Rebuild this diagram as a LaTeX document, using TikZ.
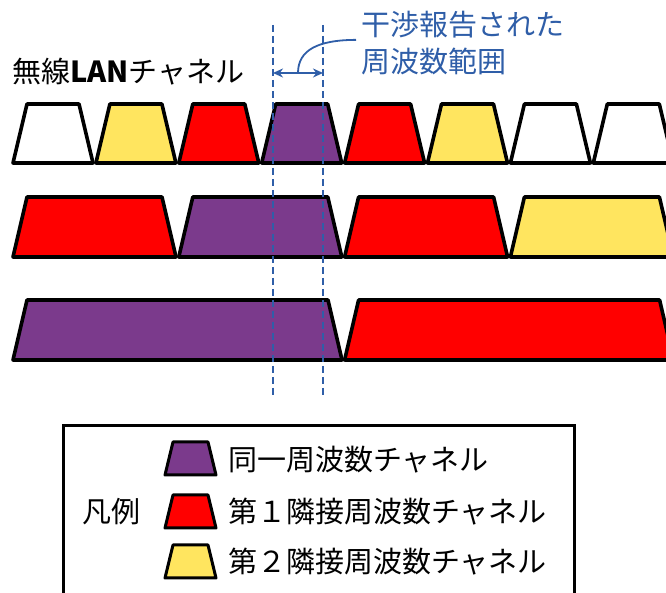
\documentclass[tikz,border=0pt]{standalone}
\usepackage{fontspec}
\setmainfont{Noto Sans CJK JP}
\definecolor{chpurple}{HTML}{7B3A8C}
\definecolor{chred}{HTML}{FF0000}
\definecolor{chyellow}{HTML}{FFE55F}
\definecolor{repblue}{HTML}{2F5EA8}
\usepackage{tikz}
\usetikzlibrary{positioning, calc, arrows.meta}
\tikzset{
	chline/.style={draw=black, line width=3.6pt, line join=round}
}
\tikzset{
	narrowch/.pic={
			\draw[chline, fill=#1] (0,0) -- (14,59) -- (66,59) -- (80,0) -- cycle;
		},
	midch/.pic={
			\draw[chline, fill=#1] (0,0) -- (14,60) -- (149,60) -- (163,0) -- cycle;
		},
	widech/.pic={
			\draw[chline, fill=#1] (0,0) -- (14,60) -- (315,60) -- (329,0) -- cycle;
		},
	keych/.pic={
			\draw[draw=black, line width=3pt, line join=round, fill=#1]
			(0,0) -- (8,33) -- (43,33) -- (51,0) -- cycle;
		}
}
\tikzset{
	bigtext/.style={font=\fontsize{29}{36.5}\selectfont, inner sep=0pt}
}
\tikzset{
	cutline/.style={repblue, line width=2.5pt, dash pattern=on 7pt off 4pt}
}

\begin{document}
\begin{tikzpicture}[x=1pt, y=1pt]

			\useasboundingbox (0,0) rectangle (666,593);
			\clip (0,0) rectangle (666,593);

			\node[bigtext, anchor=west] (title) at (12,521.5) {無線\textbf{LAN}チャネル};

			% 20MHz
			\begin{scope}
				\coordinate (cA) at (13,430);
				\coordinate (cB) at (95.9,430);
				\coordinate (cC) at (178.8,430);
				\coordinate (cD) at (261.7,430);
				\coordinate (cE) at (344.6,430);
				\coordinate (cF) at (427.5,430);
				\coordinate (cG) at (510.4,430);
				\coordinate (cH) at (593.3,430);

				\pic at (cA) {narrowch={white}};
				\pic at (cB) {narrowch={chyellow}};
				\pic at (cC) {narrowch={chred}};
				\pic at (cD) {narrowch={chpurple}};
				\pic at (cE) {narrowch={chred}};
				\pic at (cF) {narrowch={chyellow}};
				\pic at (cG) {narrowch={white}};
				\pic at (cH) {narrowch={white}};
			\end{scope}

			% 40MHz
			\begin{scope}
				\coordinate (dA) at (13,336);
				\coordinate (dB) at (178.8,336);
				\coordinate (dC) at (344.6,336);
				\coordinate (dD) at (510.4,336);

				\pic at (dA) {midch={chred}};
				\pic at (dB) {midch={chpurple}};
				\pic at (dC) {midch={chred}};
				\pic at (dD) {midch={chyellow}};
			\end{scope}

			% 80MHz
			\begin{scope}
				\coordinate (eA) at (13,233);
				\coordinate (eB) at (344.6,233);

				\pic at (eA) {widech={chpurple}};
				\pic at (eB) {widech={chred}};
			\end{scope}

			% reported range
			\begin{scope}
				\coordinate (cutLtop) at (273,568);
				\coordinate (cutLbot) at (273,195);
				\coordinate (cutRtop) at (323,568);
				\coordinate (cutRbot) at (323,195);
				\coordinate (spanL) at (273,520);
				\coordinate (spanR) at (323,520);
				\coordinate (spanmid) at ($(spanL)!0.5!(spanR)$);

				\draw[cutline] (cutLtop) -- (cutLbot);
				\draw[cutline] (cutRtop) -- (cutRbot);
				\draw[repblue, line width=2.2pt, {Stealth[length=10pt, width=9pt]}-{Stealth[length=10pt, width=9pt]}]
				(spanL) -- (spanR);

				\node[bigtext, text=repblue, align=left, anchor=north west] (rep) at (361,582) {干渉報告された\\周波数範囲};

				\draw[repblue, line width=1.8pt] (spanmid) .. controls (298,543) and (318,553) .. ([xshift=-5pt, yshift=3pt]rep.west);
			\end{scope}

			% legend
			\begin{scope}
				\draw[line width=3pt] (63,167) -- (574,167) -- (574,-10) -- (63,-10) -- cycle;

				\coordinate (kA) at (165,118);
				\coordinate (kB) at (165,65);
				\coordinate (kC) at (165,15);

				\pic at (kA) {keych={chpurple}};
				\pic at (kB) {keych={chred}};
				\pic at (kC) {keych={chyellow}};

				\node[bigtext, anchor=west] (keyA) at (228,133) {同一周波数チャネル};
				\node[bigtext, anchor=west] (keyB) at (228,81) {第１隣接周波数チャネル};
				\node[bigtext, anchor=west] (keyC) at (228,31) {第２隣接周波数チャネル};
				\node[bigtext, anchor=west] (keyhead) at (82,81) {凡例};
			\end{scope}

		\end{tikzpicture}
\end{document}
